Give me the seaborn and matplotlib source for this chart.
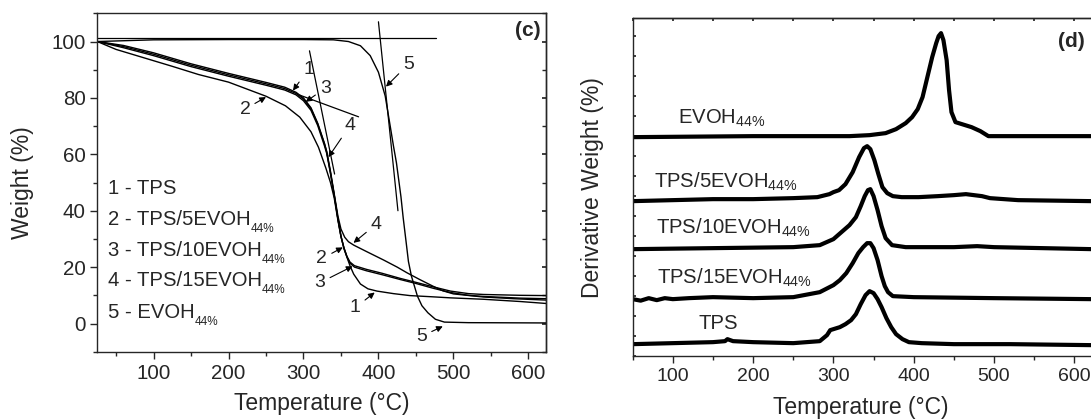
#!/usr/bin/env python3
"""TGA (c) and DTG (d) curves for TPS / EVOH blends."""
import matplotlib
matplotlib.use("Agg")
import matplotlib.pyplot as plt
import seaborn as sns
from matplotlib.ticker import MultipleLocator

# ---- (c) TGA weight curves ----
t_tps = [25, 60, 100, 150, 200, 250, 275, 290, 300, 310, 319, 328, 331, 336, 341, 346, 350, 354,
         358, 362, 367, 376, 386, 398, 420, 442, 470, 496, 540, 589, 624]
w_tps = [100.0, 98.6, 96.0, 92.1, 88.7, 85.5, 83.8, 82.0, 80.0, 76.5, 71.0, 63.8, 60.8, 53.5, 45.5,
         37.0, 31.0, 26.5, 23.5, 20.5, 17.5, 14.0, 12.3, 11.5, 10.6, 9.9, 9.5, 9.1, 8.6, 7.8, 7.1]

t_5evoh = [25, 50, 80, 125, 160, 200, 250, 276, 295, 310, 320, 330, 336, 341, 346, 350, 354, 358,
           362, 368, 384, 405, 429, 450, 473, 496, 520, 540, 589, 624]
w_5evoh = [100.0, 97.2, 94.8, 91.2, 88.3, 85.6, 80.6, 77.2, 73.2, 68.0, 62.5, 55.0, 50.0, 44.5, 36.5,
           30.8, 26.8, 23.8, 21.8, 20.5, 19.2, 17.8, 16.0, 14.6, 13.0, 11.5, 10.6, 10.3, 10.0, 9.9]

t_10evoh = [25, 60, 100, 150, 200, 250, 275, 290, 300, 310, 319, 328, 331, 336, 341, 346, 350, 354,
            358, 362, 368, 384, 405, 429, 450, 473, 496, 520, 540, 589, 624]
w_10evoh = [100.0, 97.8, 95.0, 91.1, 87.7, 84.5, 82.8, 81.1, 79.0, 75.6, 70.2, 63.0, 60.3, 53.2, 45.5,
            37.0, 31.0, 26.8, 23.6, 21.4, 20.0, 18.7, 17.3, 15.6, 14.2, 12.5, 11.0, 10.0, 9.6, 9.0, 8.8]

t_15evoh = [25, 60, 100, 150, 200, 250, 275, 290, 300, 310, 319, 328, 331, 336, 341, 346, 350, 355,
            360, 367, 385, 407, 425, 438, 455, 473, 486, 500, 540, 580, 624]
w_15evoh = [100.0, 98.2, 95.5, 91.6, 88.2, 85.0, 83.3, 81.6, 79.6, 76.2, 70.8, 63.8, 61.0, 54.0, 46.0,
            38.0, 33.5, 30.6, 29.0, 27.8, 25.4, 22.5, 20.0, 18.0, 15.6, 13.2, 11.6, 10.5, 9.4, 8.8, 8.3]

t_evoh = [25, 100, 200, 300, 340, 360, 376, 389, 400, 409, 416, 420, 424, 427, 430, 433, 437, 440,
          444, 452, 458, 466, 476, 488, 520, 624]
w_evoh = [100.0, 100.6, 100.7, 100.7, 100.6, 100.0, 98.5, 95.0, 89.1, 80.7, 69.5, 63.0, 57.0, 51.0,
          45.0, 37.5, 28.7, 22.0, 16.8, 9.7, 6.3, 3.8, 1.5, 0.5, 0.3, 0.2]

# onset tangent lines drawn on the TGA plot
tangent_lines = [
    ([25, 477], [101.1, 101.1]),
    ([400, 426], [107.0, 40.0]),
    ([308, 341.5], [96.7, 53.0]),
    ([295, 373.5], [81.0, 73.3]),
]

legend_main = ["1 - TPS", "2 - TPS/5EVOH", "3 - TPS/10EVOH", "4 - TPS/15EVOH", "5 - EVOH"]
legend_sub = ["", "44%", "44%", "44%", "44%"]
legend_y = [46.0, 35.0, 24.0, 13.2, 2.0]

# curve number, text position, arrow tip
curve_marks = [
    ("1", (306.7, 90.2), (286, 82.6)),
    ("3", (329, 83.5), (303, 78.6)),
    ("4", (362.3, 70.3), (333.3, 59.0)),
    ("5", (440, 92.0), (410, 84.0)),
    ("2", (222, 76.0), (250, 80.3)),
    ("4", (396.9, 35.2), (366.7, 28.6)),
    ("2", (324.5, 23.0), (352.5, 27.0)),
    ("3", (322.2, 14.5), (365.5, 20.3)),
    ("1", (369, 5.6), (395, 11.0)),
    ("5", (457.8, -4.5), (485.8, -1.0)),
]

# ---- (d) DTG curves, stacked (arbitrary units) ----
d_t_evoh = [50, 200, 320, 345, 365, 378, 390, 398, 405, 411, 417, 423, 428, 431, 434, 437, 441, 444,
            447, 452, 460, 472, 483, 493, 540, 622]
d_evoh = [219, 220, 220, 221, 223, 227, 233, 239, 247, 259, 279, 299, 313, 320, 323, 316, 296, 266,
          244, 234, 232, 229, 225, 220, 220, 220]

d_t_5evoh = [50, 100, 150, 200, 250, 280, 295, 300, 307, 315, 324, 332, 338, 342, 346, 351, 356, 361,
             367, 374, 385, 406, 430, 450, 465, 475, 485, 495, 530, 622]
d_5evoh = [155, 156, 157, 157, 158, 159, 162, 164, 166, 172, 184, 199, 208, 210, 207, 196, 182, 169,
           163, 160, 159, 159, 160, 161, 162, 161, 160, 158, 156, 155]

d_t_10evoh = [50, 150, 250, 283, 300, 310, 320, 328, 334, 339, 343, 346, 350, 355, 360, 365, 373,
              390, 450, 479, 500, 622]
d_10evoh = [107, 108, 109, 111, 117, 124, 131, 139, 150, 160, 166, 167, 160, 146, 130, 118, 111,
            109, 109, 110, 109, 107]

d_t_15evoh = [50, 60, 70, 80, 90, 100, 120, 150, 200, 250, 283, 300, 308, 316, 324, 331, 337, 342,
              346, 350, 355, 360, 364, 368, 374, 400, 500, 622]
d_15evoh = [57, 55.5, 58, 56, 58, 57, 58, 59, 58, 59, 64, 71, 76, 83, 93, 103, 109, 113, 113, 108, 96,
            80, 70, 64, 60, 59, 58, 57]

d_t_tps = [50, 100, 150, 165, 168, 175, 200, 250, 283, 292, 296, 300, 308, 315, 322, 328, 334, 340,
           345, 350, 355, 360, 366, 372, 378, 386, 394, 410, 450, 520, 622]
d_tps = [12, 13, 14, 15, 17, 15, 14, 13, 15, 21, 26, 27, 29, 32, 36, 42, 52, 61, 65, 63, 57, 49, 38,
         29, 22, 17, 14, 13, 12, 12, 11]

dtg_labels = ["EVOH$_{44\\%}$", "TPS/5EVOH$_{44\\%}$", "TPS/10EVOH$_{44\\%}$",
              "TPS/15EVOH$_{44\\%}$", "TPS"]
dtg_label_pos = [(107, 232), (76.5, 168), (78.7, 122.7), (80.7, 72.7), (132, 27)]


def main():
    sns.set_theme(style="ticks")
    plt.rcParams["font.family"] = ["Liberation Sans", "DejaVu Sans"]
    plt.rcParams["mathtext.default"] = "regular"
    plt.rcParams["axes.linewidth"] = 1.0

    fig = plt.figure(figsize=(10.91, 4.19), dpi=100)
    ax1 = fig.add_axes([0.0892, 0.1606, 0.4116, 0.8076])
    ax2 = fig.add_axes([0.5799, 0.150, 0.4210, 0.806])

    # --- (c) ---
    for t, w in [(t_tps, w_tps), (t_5evoh, w_5evoh), (t_10evoh, w_10evoh),
                 (t_15evoh, w_15evoh), (t_evoh, w_evoh)]:
        sns.lineplot(x=t, y=w, ax=ax1, color="black", lw=1.0, sort=False, estimator=None)
    for t, w in tangent_lines:
        sns.lineplot(x=t, y=w, ax=ax1, color="black", lw=0.9, sort=False, estimator=None)

    for num, txt, tip in curve_marks:
        ax1.annotate(num, xy=tip, xytext=txt, fontsize=14, ha="center", va="center",
                     arrowprops=dict(arrowstyle="-|>", color="black", lw=0.8,
                                     mutation_scale=9, shrinkA=1, shrinkB=0))

    for main_txt, sub, y in zip(legend_main, legend_sub, legend_y):
        t = ax1.text(38.7, y, main_txt, fontsize=14.6, ha="left", va="baseline")
        if sub:
            ax1.annotate(sub, xy=(1, 0), xycoords=t, fontsize=8.5, ha="left", va="center")

    ax1.text(0.987, 0.976, "(c)", transform=ax1.transAxes, ha="right", va="top",
             fontsize=15, fontweight="bold")

    ax1.set_xlim(25, 624)
    ax1.set_ylim(-10, 110)
    ax1.xaxis.set_major_locator(MultipleLocator(100))
    ax1.xaxis.set_minor_locator(MultipleLocator(50))
    ax1.yaxis.set_major_locator(MultipleLocator(20))
    ax1.yaxis.set_minor_locator(MultipleLocator(10))
    ax1.tick_params(which="major", direction="out", length=5, width=1, labelsize=14.8)
    ax1.tick_params(which="minor", direction="out", length=3, width=1)
    sec = ax1.secondary_yaxis("right")
    sec.yaxis.set_major_locator(MultipleLocator(20))
    sec.yaxis.set_minor_locator(MultipleLocator(10))
    sec.tick_params(which="both", direction="in", length=3, labelright=False)
    ax1.set_xlabel("Temperature (°C)", fontsize=16.5)
    ax1.set_ylabel("Weight (%)", fontsize=16.5)
    ax1.xaxis.set_label_coords(0.5, -0.119)
    ax1.yaxis.set_label_coords(-0.141, 0.5)

    # --- (d) ---
    for t, d in [(d_t_evoh, d_evoh), (d_t_5evoh, d_5evoh), (d_t_10evoh, d_10evoh),
                 (d_t_15evoh, d_15evoh), (d_t_tps, d_tps)]:
        sns.lineplot(x=t, y=d, ax=ax2, color="black", lw=3.0, sort=False, estimator=None,
                     solid_joinstyle="round", solid_capstyle="round")
    for lab, (x, y) in zip(dtg_labels, dtg_label_pos):
        ax2.text(x, y, lab, fontsize=14.6, ha="left", va="baseline")
    ax2.text(613, 324, "(d)", ha="right", va="top", fontsize=15, fontweight="bold")

    ax2.set_xlim(50, 622)
    ax2.set_ylim(0, 337.7)
    ax2.xaxis.set_major_locator(MultipleLocator(100))
    ax2.xaxis.set_minor_locator(MultipleLocator(50))
    ax2.yaxis.set_major_locator(MultipleLocator(20))
    ax2.tick_params(axis="x", which="major", direction="out", length=5, width=1, labelsize=14)
    ax2.tick_params(axis="x", which="minor", direction="out", length=3, width=1)
    ax2.tick_params(axis="y", direction="in", length=2, labelleft=False)
    top = ax2.secondary_xaxis("top")
    top.xaxis.set_major_locator(MultipleLocator(50))
    top.tick_params(direction="in", length=2, labeltop=False)
    ax2.set_xlabel("Temperature (°C)", fontsize=16.5)
    ax2.set_ylabel("Derivative Weight (%)", fontsize=16.5)
    ax2.xaxis.set_label_coords(0.497, -0.118)
    ax2.yaxis.set_label_coords(-0.0625, 0.5)

    fig.savefig("out.png", dpi=100)


if __name__ == "__main__":
    main()
